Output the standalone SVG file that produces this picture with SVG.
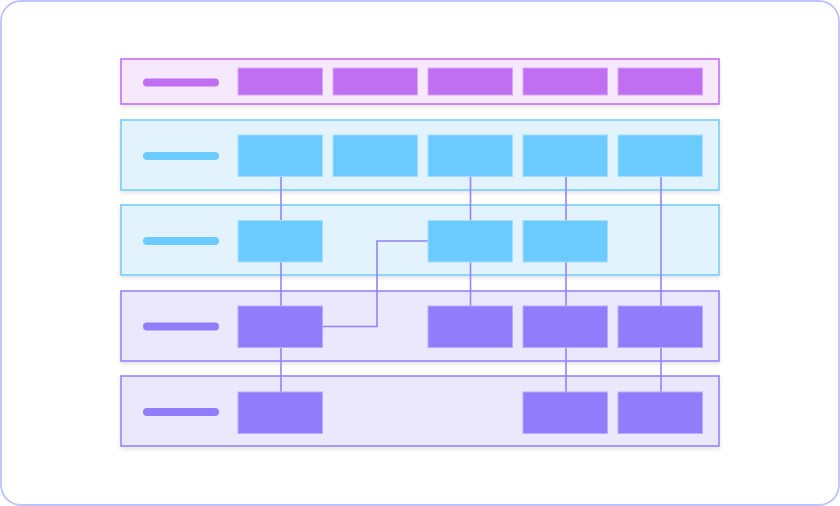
<svg xmlns="http://www.w3.org/2000/svg" width="840" height="506" viewBox="0 0 840 506">
<defs>
<filter id="sh" x="-5%" y="-20%" width="110%" height="150%">
<feDropShadow dx="0" dy="2" stdDeviation="2" flood-color="#000" flood-opacity="0.12"/>
</filter>
<style>
.frame{fill:#fff;stroke:#bcc3fd;stroke-width:1.8}
.row{stroke-width:1.6;filter:url(#sh)}
.rp{fill:#f7e9fd;stroke:#c171f1}
.rb{fill:#e3f3fe;stroke:#76cdfb}
.rv{fill:#ebe7fd;stroke:#9685f9}
.pill{stroke:none}
.bp{fill:#c06ef2;stroke:#d8a6f6;stroke-width:1}
.bb{fill:#6ccbfe;stroke:#a6defd;stroke-width:1}
.bv{fill:#917dfb;stroke:#b8abfc;stroke-width:1}
.pp{fill:#c06ef2}
.pb{fill:#6ccbfe}
.pv{fill:#917dfb}
.conn{fill:none;stroke:#9582f8;stroke-width:1.6}
</style>
</defs>
<rect class="frame" x="1" y="1" width="838" height="504" rx="20"/>
<g id="rows">
<g id="row1"><rect class="row rp" x="121" y="59" width="598" height="45"/><rect class="pill pp" x="143" y="78.5" width="76" height="8" rx="4"/></g>
<g id="row2"><rect class="row rb" x="121" y="120" width="598" height="70"/><rect class="pill pb" x="143" y="152" width="76" height="8" rx="4"/></g>
<g id="row3"><rect class="row rb" x="121" y="205" width="598" height="70"/><rect class="pill pb" x="143" y="237" width="76" height="8" rx="4"/></g>
<g id="row4"><rect class="row rv" x="121" y="291" width="598" height="70"/><rect class="pill pv" x="143" y="322.5" width="76" height="8" rx="4"/></g>
<g id="row5"><rect class="row rv" x="121" y="376" width="598" height="70"/><rect class="pill pv" x="143" y="408" width="76" height="8" rx="4"/></g>
</g>
<g id="connectors">
<path class="conn" d="M281 176V392"/>
<path class="conn" d="M470.5 176V306"/>
<path class="conn" d="M566 176V392"/>
<path class="conn" d="M661 176V392"/>
<path class="conn" d="M322 326.5H377V241H428"/>
</g>
<g id="r1-nodes">
<g id="n1-1"><rect class="bp" x="238" y="68" width="84.5" height="27"/></g>
<g id="n1-2"><rect class="bp" x="333" y="68" width="84.5" height="27"/></g>
<g id="n1-3"><rect class="bp" x="428" y="68" width="84.5" height="27"/></g>
<g id="n1-4"><rect class="bp" x="523" y="68" width="84.5" height="27"/></g>
<g id="n1-5"><rect class="bp" x="618" y="68" width="84.5" height="27"/></g>
</g>
<g id="r2-nodes">
<g id="n2-1"><rect class="bb" x="238" y="135" width="84.5" height="41.5"/></g>
<g id="n2-2"><rect class="bb" x="333" y="135" width="84.5" height="41.5"/></g>
<g id="n2-3"><rect class="bb" x="428" y="135" width="84.5" height="41.5"/></g>
<g id="n2-4"><rect class="bb" x="523" y="135" width="84.5" height="41.5"/></g>
<g id="n2-5"><rect class="bb" x="618" y="135" width="84.5" height="41.5"/></g>
</g>
<g id="r3-nodes">
<g id="n3-1"><rect class="bb" x="238" y="220.5" width="84.5" height="41.5"/></g>
<g id="n3-3"><rect class="bb" x="428" y="220.5" width="84.5" height="41.5"/></g>
<g id="n3-4"><rect class="bb" x="523" y="220.5" width="84.5" height="41.5"/></g>
</g>
<g id="r4-nodes">
<g id="n4-1"><rect class="bv" x="238" y="306" width="84.5" height="41.5"/></g>
<g id="n4-3"><rect class="bv" x="428" y="306" width="84.5" height="41.5"/></g>
<g id="n4-4"><rect class="bv" x="523" y="306" width="84.5" height="41.5"/></g>
<g id="n4-5"><rect class="bv" x="618" y="306" width="84.5" height="41.5"/></g>
</g>
<g id="r5-nodes">
<g id="n5-1"><rect class="bv" x="238" y="392" width="84.5" height="41.5"/></g>
<g id="n5-4"><rect class="bv" x="523" y="392" width="84.5" height="41.5"/></g>
<g id="n5-5"><rect class="bv" x="618" y="392" width="84.5" height="41.5"/></g>
</g>
</svg>
